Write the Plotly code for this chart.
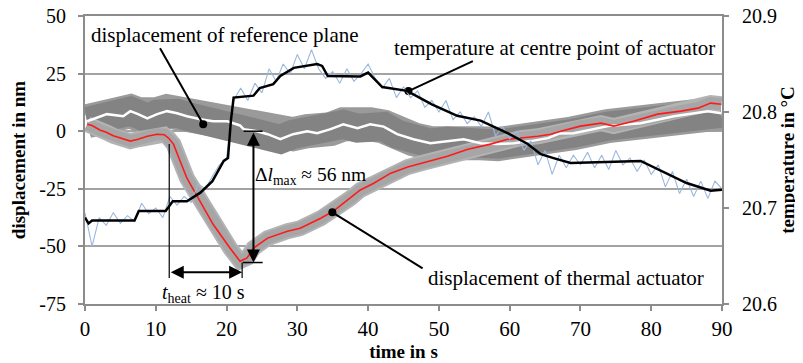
import plotly.graph_objects as go

# ---------------- data ----------------
# temperature at centre point of actuator (smoothed), right axis, °C
temp_t = [0, 0.5, 1, 7, 7.6, 11.4, 12.4, 14.4, 16.3, 18, 19.6, 20.2, 20.6, 21.0, 23.8, 24.7,
          26.6, 27.6, 29.5, 32.8, 33.5, 34.3, 38.9, 40.0, 42, 45.5, 49, 52.6, 55.9, 59.7,
          62.5, 64.4, 66.2, 68.6, 78.5, 81.3, 85, 88.4, 90]
temp_T = [20.690, 20.684, 20.687, 20.687, 20.697, 20.697, 20.707, 20.707, 20.716, 20.728,
          20.749, 20.752, 20.790, 20.815, 20.817, 20.825, 20.829, 20.8375, 20.846, 20.850,
          20.848, 20.8375, 20.837, 20.841, 20.826, 20.822, 20.808, 20.796, 20.791, 20.778,
          20.767, 20.756, 20.752, 20.747, 20.749, 20.739, 20.726, 20.718, 20.719]

# raw temperature (noisy), 1 s steps
raw_t = list(range(0, 91))
raw_T = [20.695, 20.660, 20.690, 20.682, 20.695, 20.684, 20.692, 20.686, 20.705, 20.694,
         20.700, 20.690, 20.712, 20.703, 20.712, 20.706, 20.725, 20.720, 20.733, 20.745,
         20.752, 20.812, 20.825, 20.812, 20.830, 20.820, 20.845, 20.832, 20.850, 20.840,
         20.860, 20.845, 20.865, 20.845, 20.835, 20.842, 20.830, 20.845, 20.832, 20.840,
         20.850, 20.835, 20.825, 20.835, 20.815, 20.826, 20.815, 20.822, 20.805, 20.812,
         20.800, 20.812, 20.792, 20.800, 20.788, 20.795, 20.785, 20.800, 20.775, 20.785,
         20.772, 20.780, 20.760, 20.770, 20.745, 20.760, 20.735, 20.755, 20.742, 20.755,
         20.745, 20.758, 20.742, 20.755, 20.740, 20.760, 20.745, 20.752, 20.738, 20.750,
         20.735, 20.745, 20.722, 20.738, 20.715, 20.730, 20.712, 20.728, 20.710, 20.728,
         20.720]

# displacement of thermal actuator, nm
act_t = [0.3, 1, 2.1, 3, 4, 5, 6.4, 7.5, 8.8, 10.2, 11.2, 11.8, 12.5, 14.4, 16.3, 18.1,
         20.5, 21.9, 22.9, 23.8, 25.8, 28.6, 30.4, 33.3, 35.1, 37.5, 38.9, 40.8, 43.2,
         45.6, 48, 51.2, 54.1, 57.3, 59.7, 61.6, 64, 65.8, 67.2, 70, 72.9, 74.7, 77.5,
         80.9, 84.2, 86.6, 88.4, 89.9]
act_d = [3.0, 2.5, 0.5, -0.5, -2.0, -3.0, -4.3, -3.5, -2.2, -1.3, -1.5, -3.0, -5.6, -20.4,
         -30.4, -40.4, -50.8, -56.4, -55.0, -50.8, -46.4, -43.4, -42.1, -37.8, -34.7,
         -29.1, -25.5, -22.6, -18.2, -15.5, -13.5, -10.9, -7.8, -5.6, -3.5, -3.0, -2.2,
         -1.3, 0.0, 2.2, 3.5, 2.2, 4.3, 7.4, 8.7, 10.0, 12.2, 11.7]

# displacement of reference plane, nm
ref_t = [0.3, 1.5, 3.1, 5.4, 6.4, 7.5, 8.8, 10.2, 11.6, 13.0, 14.4, 16.3, 18.1, 20.1, 21.9,
         22.4, 24.3, 25.8, 27.6, 29.4, 31.4, 32.8, 34.7, 36.5, 38.5, 40.3, 42.2, 44.1,
         46.4, 48.8, 51.2, 53.5, 55.9, 58.3, 60.6, 63, 65.4, 67, 69, 73.9, 78.5, 83.2,
         88, 89.9]
ref_d = [4.3, 5.5, 7.4, 6.5, 8.7, 7.4, 5.6, 7.4, 8.7, 7.8, 6.5, 5.2, 4.3, 4.3, 2.5, 0.9,
         0.0, -1.3, -3.5, -1.3, 0.0, -0.9, 0.9, 3.0, 1.3, 3.0, 2.0, -1.3, -3.5, -5.2,
         -4.3, -3.5, -5.2, -5.6, -5.2, -4.3, -3.0, -1.0, -0.9, 2.2, 3.5, 6.5, 8.7, 7.8]

x_ticks = [0, 10, 20, 30, 40, 50, 60, 70, 80, 90]
y_ticks = [-75, -50, -25, 0, 25, 50]
y_tick_labels = ["-75", "-50", "-25", "0", "25", "50"]
y2_ticks = [20.6, 20.7, 20.8, 20.9]
y2_tick_labels = ["20.6", "20.7", "20.8", "20.9"]

# annotation anchors (time in s, displacement in nm)
dl_t, dl_top, dl_bottom = 23.8, 0.0, -57.0
heat_start, heat_end, heat_y = 11.9, 22.2, -61.2

FONT = "Liberation Serif"
GRID = "#a3a3a3"
AXIS = "#8c8c8c"

fig = go.Figure()

fig.add_trace(go.Scatter(x=ref_t, y=ref_d, mode="lines",
                         line=dict(color="#9a9a9a", width=34), hoverinfo="skip"))
fig.add_trace(go.Scatter(x=ref_t, y=ref_d, mode="lines",
                         line=dict(color="#838383", width=29), hoverinfo="skip"))
fig.add_trace(go.Scatter(x=act_t, y=act_d, mode="lines",
                         line=dict(color="#b3b3b3", width=16), hoverinfo="skip"))
fig.add_trace(go.Scatter(x=act_t, y=act_d, mode="lines",
                         line=dict(color="#a6a6a6", width=12), hoverinfo="skip"))
fig.add_trace(go.Scatter(x=ref_t, y=ref_d, mode="lines",
                         line=dict(color="white", width=2.5), hoverinfo="skip"))
fig.add_trace(go.Scatter(x=act_t, y=act_d, mode="lines",
                         line=dict(color="#ff1a1a", width=1.6), hoverinfo="skip"))
fig.add_trace(go.Scatter(x=raw_t, y=raw_T, mode="lines", yaxis="y2",
                         line=dict(color="#9ab8de", width=1.1), hoverinfo="skip"))
fig.add_trace(go.Scatter(x=temp_t, y=temp_T, mode="lines", yaxis="y2",
                         line=dict(color="black", width=2.5), hoverinfo="skip"))

# leader lines with dots
leaders = [((10.6, 36.0), (16.7, 3.0)),
           ((54.8, 30.4), (45.7, 17.4)),
           ((47.7, -59.5), (34.95, -35.2))]
for (x0, y0), (x1, y1) in leaders:
    fig.add_shape(type="line", x0=x0, y0=y0, x1=x1, y1=y1, xref="x", yref="y",
                  line=dict(color="black", width=2))
fig.add_trace(go.Scatter(x=[p[1][0] for p in leaders], y=[p[1][1] for p in leaders],
                         mode="markers", marker=dict(color="black", size=8),
                         hoverinfo="skip"))

# t_heat helper lines
fig.add_shape(type="line", x0=heat_start, x1=heat_start, y0=-5.6, y1=-63.7,
              xref="x", yref="y", line=dict(color="black", width=1.2))
fig.add_shape(type="line", x0=heat_end, x1=heat_end, y0=-57.0, y1=-63.7,
              xref="x", yref="y", line=dict(color="black", width=1.2))
# delta l caps
fig.add_shape(type="line", x0=22.4, x1=25.1, y0=dl_top, y1=dl_top,
              xref="x", yref="y", line=dict(color="black", width=1.5))
fig.add_shape(type="line", x0=22.3, x1=25.1, y0=dl_bottom, y1=dl_bottom,
              xref="x", yref="y", line=dict(color="black", width=1.5))

# double arrows
fig.add_annotation(x=dl_t, y=dl_bottom, ax=dl_t, ay=dl_top, xref="x", yref="y",
                   axref="x", ayref="y", text="", showarrow=True, arrowhead=2,
                   startarrowhead=2, arrowside="end+start", arrowsize=1.3,
                   startarrowsize=1.3, arrowwidth=2, arrowcolor="black")
fig.add_annotation(x=heat_end, y=heat_y, ax=heat_start, ay=heat_y, xref="x", yref="y",
                   axref="x", ayref="y", text="", showarrow=True, arrowhead=2,
                   startarrowhead=2, arrowside="end+start", arrowsize=1.3,
                   startarrowsize=1.3, arrowwidth=2, arrowcolor="black")

texts = [
    (19.8, 41.7, "displacement of reference plane", 21),
    (66.4, 36.0, "temperature at centre point of actuator", 21),
    (67.9, -63.8, "displacement of thermal actuator", 21),
    (31.8, -19.5, "Δ<i>l</i><sub>max</sub> ≈ 56 nm", 19.5),
    (16.7, -70.3, "<i>t</i><sub>heat</sub> ≈ 10 s", 20),
]
for x, y, s, fs in texts:
    fig.add_annotation(x=x, y=y, xref="x", yref="y", text=s, showarrow=False,
                       font=dict(family=FONT, size=fs, color="black"))

fig.update_layout(
    width=803, height=363,
    margin=dict(l=77, r=89, t=8, b=67, autoexpand=False),
    paper_bgcolor="white", plot_bgcolor="white",
    showlegend=False,
    font=dict(family=FONT, size=20, color="black"),
    xaxis=dict(range=[0, 90], tickvals=x_ticks, showgrid=False, zeroline=False,
               automargin=False, mirror=True, ticklabeloverflow="allow",
               showline=True, linecolor=AXIS, linewidth=2, ticks="outside",
               tickcolor=AXIS, ticklen=5, tickwidth=1.5,
               tickfont=dict(family=FONT, size=21),
               title=dict(text="<b>time in s</b>", standoff=0,
                          font=dict(family=FONT, size=19))),
    yaxis=dict(range=[-75, 50], tickvals=y_ticks, ticktext=y_tick_labels,
               automargin=False, ticklabelstandoff=8, ticklabeloverflow="allow",
               showgrid=True, gridcolor=GRID, gridwidth=2, zeroline=False,
               showline=True, linecolor=AXIS, linewidth=2, ticks="outside",
               tickcolor=AXIS, ticklen=5, tickwidth=1.5,
               tickfont=dict(family=FONT, size=20),
               title=dict(text="<b>displacement in nm</b>", standoff=10,
                          font=dict(family=FONT, size=19))),
    yaxis2=dict(range=[20.6, 20.9], tickvals=y2_ticks, ticktext=y2_tick_labels,
                automargin=False, ticklabelstandoff=9, ticklabeloverflow="allow",
                overlaying="y", side="right", showgrid=False, zeroline=False,
                showline=True, linecolor=AXIS, linewidth=2, ticks="outside",
                tickcolor=AXIS, ticklen=5, tickwidth=1.5,
                tickfont=dict(family=FONT, size=20),
                title=dict(text="<b>temperature in °C</b>", standoff=2,
                           font=dict(family=FONT, size=19))),
)

fig.write_html("out.html")
